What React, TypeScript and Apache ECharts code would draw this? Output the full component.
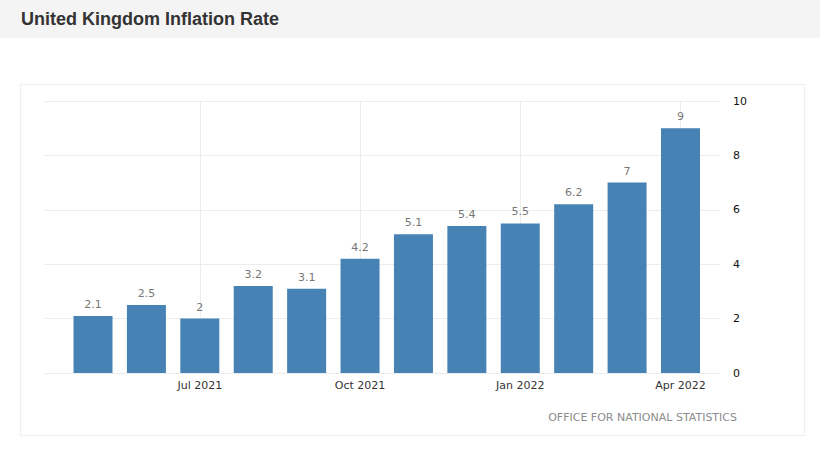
import React, { useEffect, useRef } from "react";
import * as echarts from "echarts";

const title = "United Kingdom Inflation Rate";
const sourceText = "OFFICE FOR NATIONAL STATISTICS";
const categories = [
  "May 2021", "Jun 2021", "Jul 2021", "Aug 2021", "Sep 2021", "Oct 2021",
  "Nov 2021", "Dec 2021", "Jan 2022", "Feb 2022", "Mar 2022", "Apr 2022",
];
const inflation = [2.1, 2.5, 2.0, 3.2, 3.1, 4.2, 5.1, 5.4, 5.5, 6.2, 7.0, 9.0];
const labeledMonths = ["Jul 2021", "Oct 2021", "Jan 2022", "Apr 2022"];
const yMin = 0;
const yMax = 10;
const yInterval = 2;

const FONT = "DejaVu Sans";

export default function App() {
  const ref = useRef<HTMLDivElement>(null);
  useEffect(() => {
    document.body.style.margin = "0";
    if (!ref.current) return;
    const chart = echarts.init(ref.current, undefined, { renderer: "svg" });
    const option = {
      animation: false,
      backgroundColor: "#ffffff",
      graphic: [
        { type: "rect", shape: { x: 0, y: 0, width: 820, height: 38 }, style: { fill: "#f4f4f4" }, z: -10 },
        {
          type: "text", x: 21, y: 19,
          style: { text: title, fill: "#333333", font: "bold 18px 'Liberation Sans', Arial, sans-serif", textVerticalAlign: "middle" },
        },
        {
          type: "rect", shape: { x: 20.5, y: 84.5, width: 784, height: 351 },
          style: { fill: "none", stroke: "#efefef", lineWidth: 1 }, z: -10,
        },
        {
          type: "text", x: 737, y: 417,
          style: { text: sourceText, fill: "#8c8c8c", font: `11px '${FONT}', sans-serif`, textAlign: "right", textVerticalAlign: "middle" },
        },
      ],
      grid: [
        { left: 44, right: 100, top: 101, bottom: 82 },
        { left: 66.3, right: 112.8, top: 101, bottom: 82 },
      ],
      xAxis: [
        { type: "category", gridIndex: 0, data: categories, show: false },
        {
          type: "category", gridIndex: 1, data: categories, boundaryGap: true,
          axisLine: { show: false }, axisTick: { show: false }, splitLine: { show: false },
          axisLabel: {
            interval: (index: number) => labeledMonths.includes(categories[index]),
            color: "#333333", fontFamily: FONT, fontSize: 11, margin: 7,
          },
        },
      ],
      yAxis: [
        {
          type: "value", gridIndex: 0, position: "right", min: yMin, max: yMax, interval: yInterval,
          axisLine: { show: false }, axisTick: { show: false },
          axisLabel: { color: "#111111", fontFamily: FONT, fontSize: 11, margin: 13 },
          splitLine: { show: true, lineStyle: { color: "#ececec", width: 1 } },
        },
        {
          type: "value", gridIndex: 1, min: yMin, max: yMax, interval: yInterval, show: false,
          splitLine: { show: false },
        },
      ],
      series: [
        {
          type: "custom", xAxisIndex: 1, yAxisIndex: 1, z: 1, silent: true,
          data: labeledMonths.map((m) => [m]),
          renderItem: (params: any, api: any) => {
            const top = api.coord([api.value(0), yMax]);
            const bottom = api.coord([api.value(0), yMin]);
            return {
              type: "line",
              shape: { x1: Math.round(top[0]) + 0.5, y1: top[1], x2: Math.round(bottom[0]) + 0.5, y2: bottom[1] },
              style: { stroke: "#ececec", lineWidth: 1 },
            };
          },
        },
        {
          type: "bar", xAxisIndex: 1, yAxisIndex: 1, data: inflation, barWidth: 39, z: 3,
          itemStyle: { color: "#4682b4" },
          label: { show: true, position: "top", distance: 6, color: "#777777", fontFamily: FONT, fontSize: 11 },
        },
      ],
    };
    chart.setOption(option as any);
    return () => chart.dispose();
  }, []);
  return <div ref={ref} style={{ width: 820, height: 455 }} />;
}
